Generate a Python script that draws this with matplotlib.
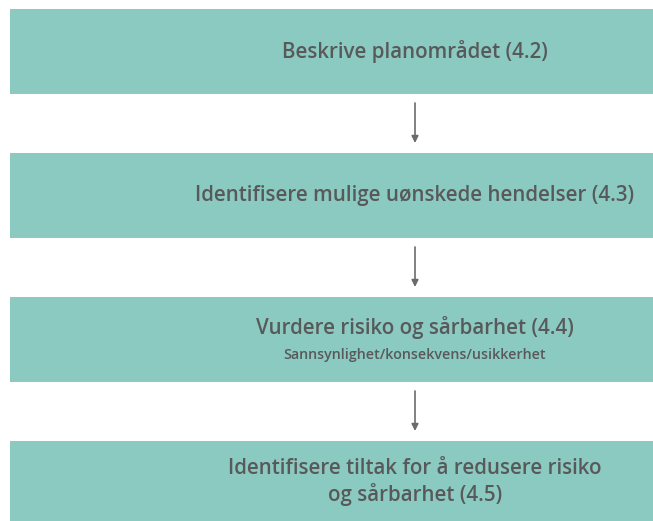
import matplotlib.pyplot as plt
from matplotlib.patches import Rectangle

plt.rcParams['font.family'] = ['Open Sans', 'DejaVu Sans']

# steps in the process, top to bottom
titles = [
    "Beskrive planområdet (4.2)",
    "Identifisere mulige uønskede hendelser (4.3)",
    "Vurdere risiko og sårbarhet (4.4)",
    "Identifisere tiltak for å redusere risiko\nog sårbarhet (4.5)",
]
subtitles = ["", "", "Sannsynlighet/konsekvens/usikkerhet", ""]

box_color = '#8bcac0'
text_color = '#58595b'

fig = plt.figure(figsize=(6.53, 5.21), dpi=100)
ax = fig.add_axes([0, 0, 1, 1])
ax.set_xlim(0, 653)
ax.set_ylim(521, 0)
ax.axis('off')

box_top = [9, 153, 297, 441]
box_h = 85
cx = 415
fs = 14.8

for i, (title, sub) in enumerate(zip(titles, subtitles)):
    y0 = box_top[i]
    ax.add_patch(Rectangle((10, y0), 660, box_h, color=box_color, lw=0))
    if sub:
        ax.text(cx, y0 + 31, title, ha='center', va='center', fontsize=fs,
                fontweight='semibold', color=text_color)
        ax.text(cx, y0 + 58, sub, ha='center', va='center', fontsize=10.3,
                fontweight='semibold', color=text_color)
    elif '\n' in title:
        ax.text(cx, y0 + 41, title, ha='center', va='center', fontsize=fs,
                fontweight='semibold', color=text_color, linespacing=1.25)
    else:
        ax.text(cx, y0 + box_h / 2, title, ha='center', va='center', fontsize=fs,
                fontweight='semibold', color=text_color)
    if i < len(titles) - 1:
        ax.annotate('', xy=(cx, box_top[i + 1] - 10), xytext=(cx, y0 + box_h + 9),
                    arrowprops=dict(arrowstyle='-|>', color='#6a6b6d', lw=1.2,
                                    mutation_scale=10, shrinkA=0, shrinkB=0))

fig.savefig('out.png', dpi=100)
